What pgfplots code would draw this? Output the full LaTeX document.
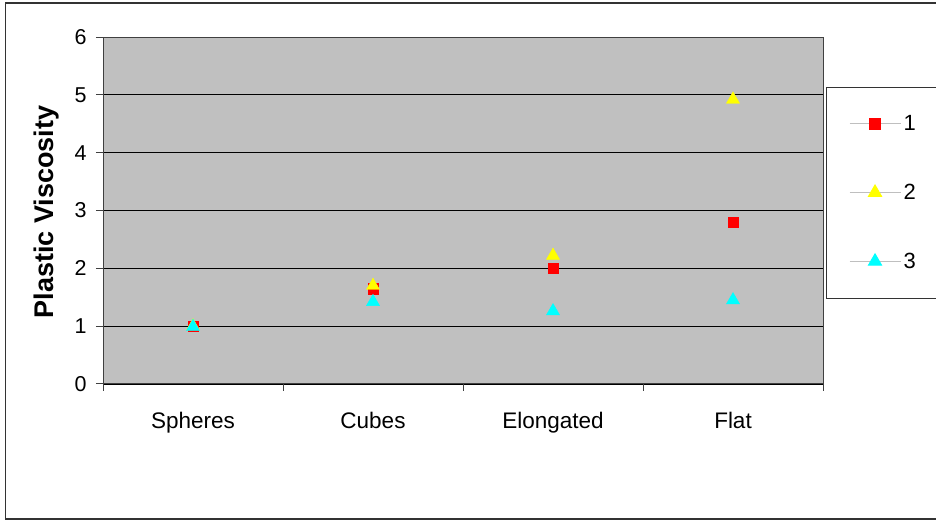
\documentclass[border=0pt]{standalone}
\usepackage{fontspec}
\setmainfont{Liberation Sans}
\usepackage{pgfplots}
\pgfplotsset{compat=1.18}
\definecolor{plotbg}{HTML}{C0C0C0}
\definecolor{mkred}{HTML}{FF0000}
\definecolor{mkyellow}{HTML}{FFFF00}
\definecolor{mkcyan}{HTML}{00FFFF}
\begin{document}
\begin{tikzpicture}
\useasboundingbox (0bp,0bp) rectangle (936bp,521bp);
\fill[white] (0bp,0bp) rectangle (936bp,521bp);
\draw[black!80, line width=1.3bp] (5.5bp,2bp) rectangle (950bp,518bp);
\begin{axis}[
  at={(103bp,137bp)}, anchor=south west,
  scale only axis, width=720bp, height=347bp,
  xmin=0, xmax=4, ymin=0, ymax=6,
  axis background/.style={fill=plotbg},
  axis line style={draw=black!75, line width=1bp},
  xtick={0.5,1.5,2.5,3.5},
  xticklabels={Spheres,Cubes,Elongated,Flat},
  minor xtick={0,1,2,3,4},
  major x tick style={draw=none},
  minor x tick style={draw=black!75, line width=1bp},
  ytick={0,1,2,3,4,5,6},
  y tick style={draw=black!75, line width=1bp},
  major tick length=7bp, minor tick length=7bp,
  tick align=outside, tick pos=left,
  ymajorgrids=true,
  major grid style={draw=black, line width=0.9bp},
  /pgf/number format/assume math mode=true,
  yticklabel style={font=\fontsize{21.5bp}{25bp}\selectfont, xshift=-6bp},
  xticklabel style={font=\fontsize{22.5bp}{27bp}\selectfont, yshift=-18bp},
  ylabel={Plastic Viscosity},
  every axis y label/.style={at={(axis description cs:-0.078,0.496)}, rotate=90, anchor=center, font=\fontsize{27bp}{32bp}\selectfont\bfseries},
  legend cell align=left,
  legend style={at={(1.0042,0.856)}, anchor=north west, draw=black!80, fill=white, line width=0.9bp,
    font=\fontsize{22bp}{26bp}\selectfont, inner xsep=15bp, inner ysep=27bp, row sep=49bp, column sep=0bp, outer sep=0bp,
    nodes={inner sep=1.5bp}},
  legend image code/.code={
    \path[draw=none] (0bp,0bp) -- (61bp,0bp);
    \draw[line width=1.4bp, draw=black!25] (8.5bp,0bp) -- (59.5bp,0bp);
    \draw[#1, mark repeat=2, mark phase=2] plot coordinates {(8.5bp,0bp) (34bp,0bp) (59.5bp,0bp)};
  },
]
\addplot[only marks, mark=square*, mark size=5.3bp, color=mkred] coordinates {
  (0.5,1.00) (1.5,1.65) (2.5,2.00) (3.5,2.80)
};
\addlegendentry{1\hspace*{8bp}}
\addplot[only marks, mark=triangle*, mark size=7.6bp, color=mkyellow] coordinates {
  (0.5,1.00) (1.5,1.70) (2.5,2.22) (3.5,4.92)
};
\addlegendentry{2\hspace*{8bp}}
\addplot[only marks, mark=triangle*, mark size=7.6bp, color=mkcyan] coordinates {
  (0.5,0.99) (1.5,1.42) (2.5,1.26) (3.5,1.45)
};
\addlegendentry{3\hspace*{8bp}}
\end{axis}
\end{tikzpicture}
\end{document}
